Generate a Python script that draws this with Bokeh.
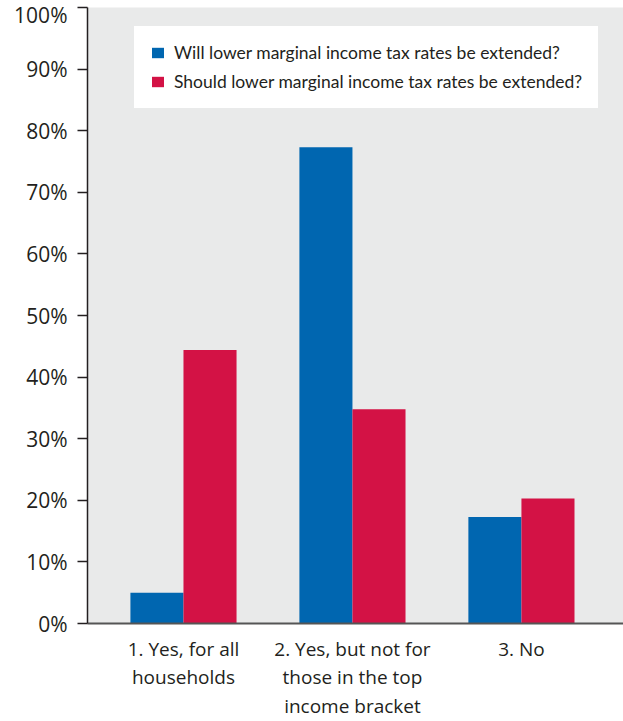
from bokeh.plotting import figure
from bokeh.models import Range1d, FixedTicker, Legend, LegendItem
from bokeh.embed import file_html
from bokeh.resources import INLINE

categories = ["1. Yes, for all\nhouseholds", "2. Yes, but not for\nthose in the top\nincome bracket", "3. No"]
will_vals = [5.0, 77.3, 17.3]
should_vals = [44.4, 34.8, 20.3]
series_names = ["Will lower marginal income tax rates be extended?",
                "Should lower marginal income tax rates be extended?"]
y_ticks = [0, 10, 20, 30, 40, 50, 60, 70, 80, 90, 100]

BLUE = "#0066b0"
RED = "#d31245"
GRAY = "#e9eaea"
INK = "#231f20"

xpos = [1, 2, 3]
bw = 0.314

p = figure(width=623, height=721, output_backend="svg", toolbar_location=None,
           x_range=Range1d(0.432, 3.604), y_range=Range1d(0, 100),
           min_border_left=87, min_border_right=0, min_border_top=7, min_border_bottom=97)
p.background_fill_color = GRAY
p.border_fill_color = "white"
p.outline_line_color = None
p.grid.visible = False

rb = p.vbar(x=[x - bw / 2 for x in xpos], top=will_vals, width=bw, bottom=0,
            fill_color=BLUE, line_color=None)
rr = p.vbar(x=[x + bw / 2 for x in xpos], top=should_vals, width=bw, bottom=0,
            fill_color=RED, line_color=None)

# y axis
ya = p.yaxis[0]
ya.ticker = FixedTicker(ticks=y_ticks)
ya.major_label_overrides = {t: f"{t}%" for t in y_ticks}
ya.minor_tick_line_color = None
ya.major_tick_out = 10
ya.major_tick_in = 0
ya.major_tick_line_color = INK
ya.major_tick_line_width = 1.5
ya.axis_line_color = INK
ya.axis_line_width = 1.5
ya.major_label_text_font = "Open Sans"
ya.major_label_text_font_size = "21px"
ya.major_label_text_color = INK
ya.major_label_standoff = 10

# x axis
xa = p.xaxis[0]
xa.ticker = FixedTicker(ticks=xpos)
xa.major_label_overrides = {x: c for x, c in zip(xpos, categories)}
xa.minor_tick_line_color = None
xa.major_tick_line_color = None
xa.axis_line_color = "#555555"
xa.axis_line_width = 2
xa.major_label_text_font = "Open Sans"
xa.major_label_text_font_size = "19px"
xa.major_label_text_color = INK
xa.major_label_text_line_height = 1.1
xa.major_label_standoff = 6

legend = Legend(items=[LegendItem(label=series_names[0], renderers=[rb]),
                       LegendItem(label=series_names[1], renderers=[rr])],
                location=(47, 515), orientation="vertical")
legend.background_fill_color = "white"
legend.background_fill_alpha = 1
legend.border_line_color = "white"
legend.border_line_width = 6
legend.border_line_join = "miter"
legend.label_text_font = "Lato"
legend.label_text_font_size = "17.5px"
legend.label_text_color = INK
legend.glyph_width = 15
legend.glyph_height = 13
legend.label_height = 20
legend.spacing = 8
legend.padding = 10
legend.margin = 0
legend.label_standoff = 9
p.add_layout(legend)

open("out.html", "w").write(file_html(p, INLINE))
